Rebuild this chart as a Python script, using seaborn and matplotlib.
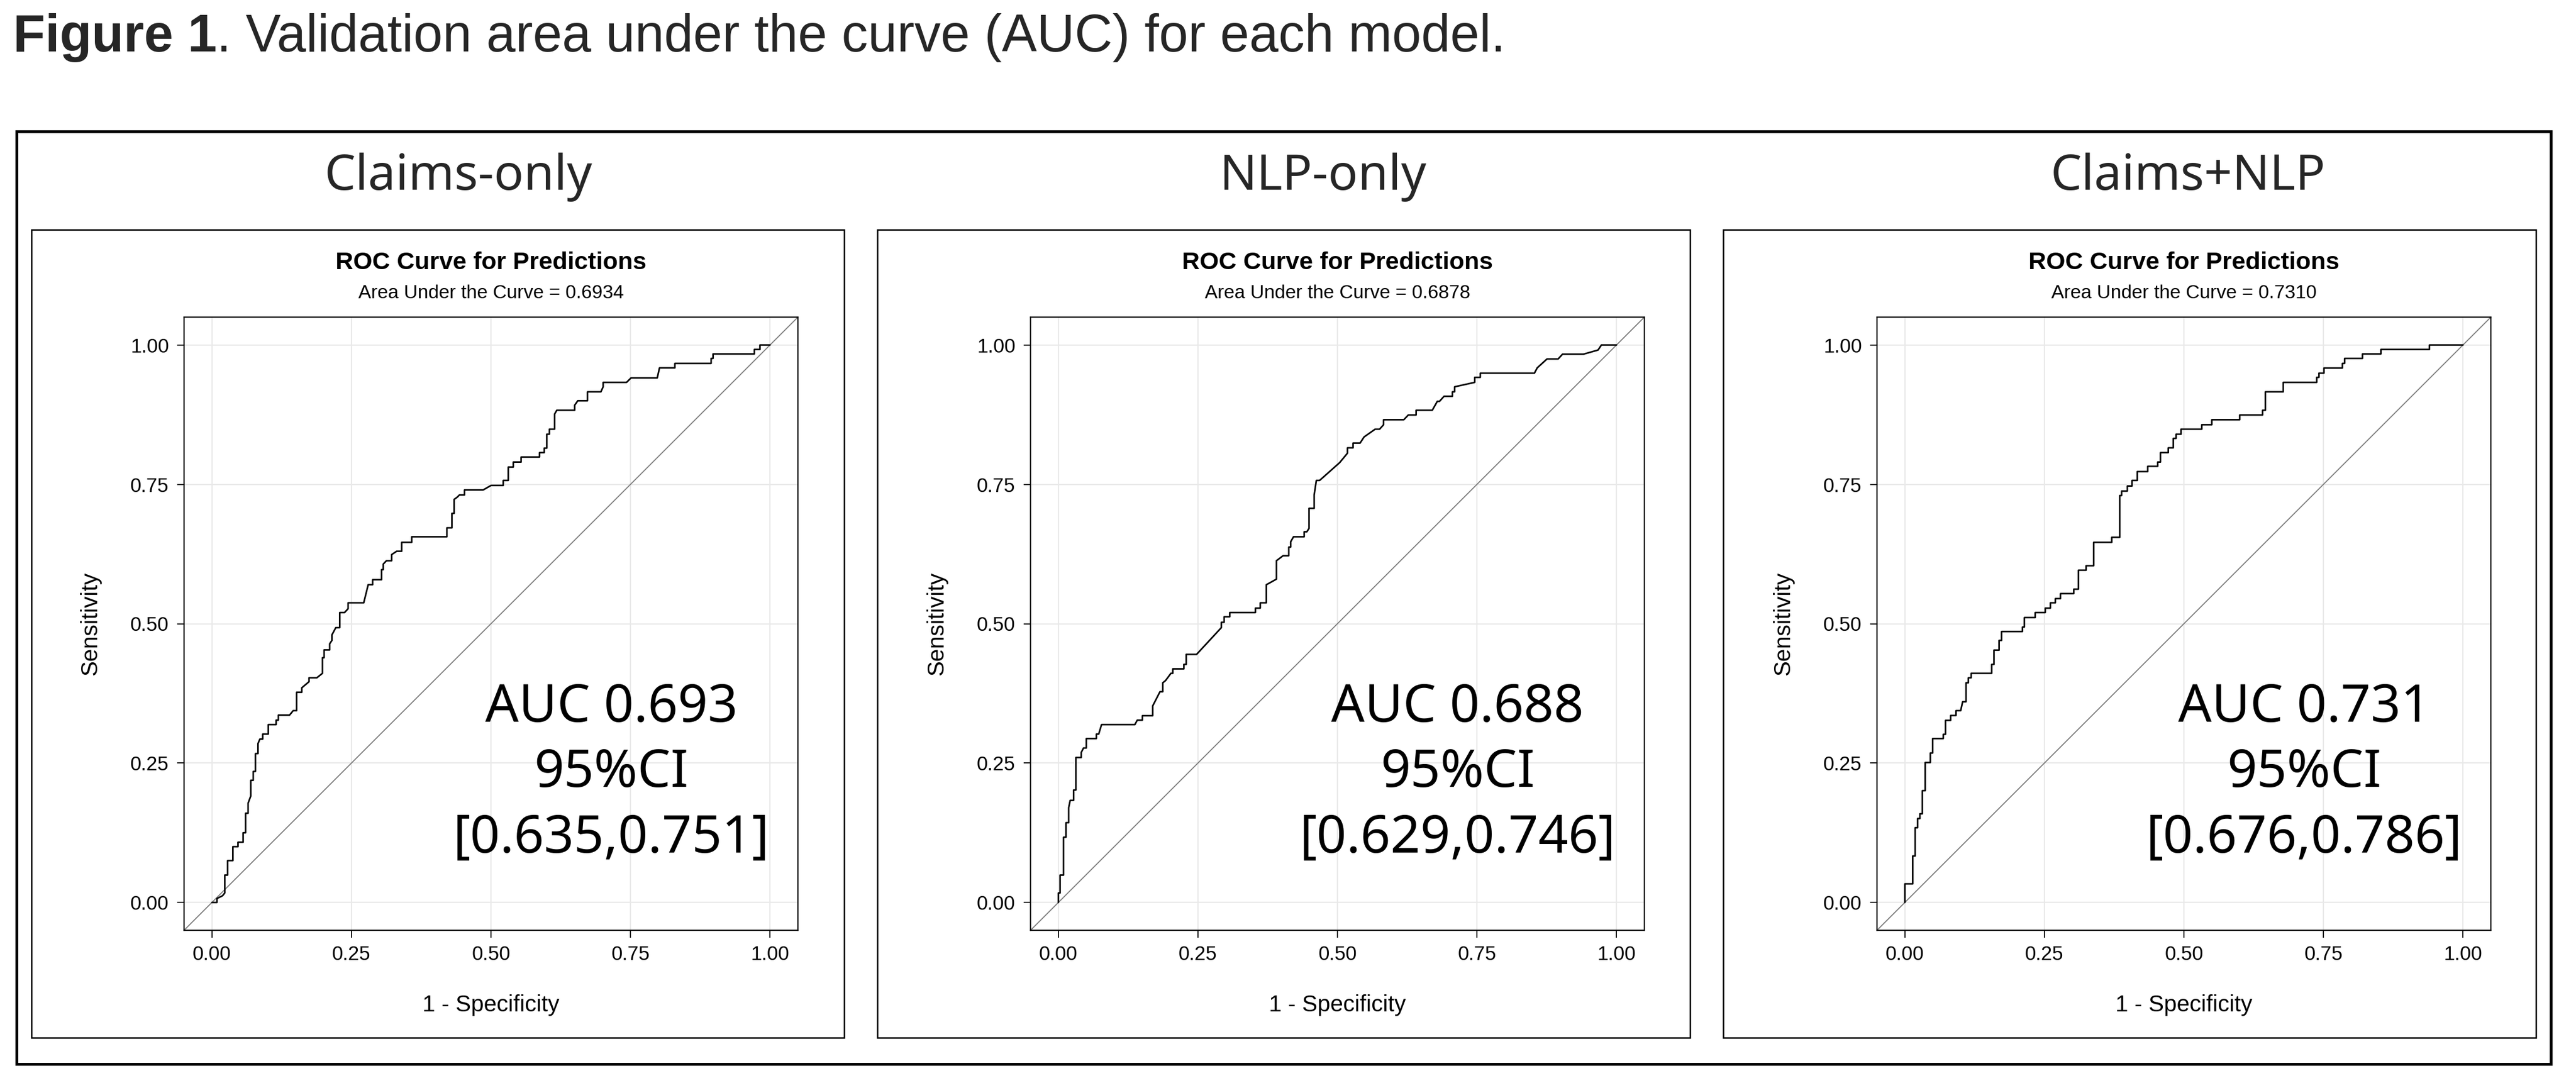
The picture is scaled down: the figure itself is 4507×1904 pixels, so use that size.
import numpy as np
import pandas as pd
import matplotlib
matplotlib.use("Agg")
import matplotlib.pyplot as plt
from matplotlib.patches import Rectangle
import seaborn as sns

# ---------------- data ----------------
models = ["Claims-only", "NLP-only", "Claims+NLP"]
auc_exact = ["0.6934", "0.6878", "0.7310"]
auc_short = ["0.693", "0.688", "0.731"]
ci_low = ["0.635", "0.629", "0.676"]
ci_high = ["0.751", "0.746", "0.786"]
tick_vals = [0.0, 0.25, 0.5, 0.75, 1.0]
tick_labels = ["0.00", "0.25", "0.50", "0.75", "1.00"]

# ROC path vertices (1 - specificity, sensitivity)
claims_roc = [
    (0, 0), (0.009, 0), (0.009, 0.007), (0.019, 0.012), (0.023, 0.017), (0.023, 0.049),
    (0.028, 0.049), (0.028, 0.075), (0.0375, 0.075), (0.0375, 0.1), (0.0467, 0.1),
    (0.0467, 0.108), (0.0559, 0.108), (0.0559, 0.125), (0.0603, 0.125), (0.0603, 0.16),
    (0.0648, 0.16), (0.0648, 0.178), (0.0696, 0.191), (0.0696, 0.219), (0.074, 0.219),
    (0.074, 0.235), (0.078, 0.235), (0.078, 0.267), (0.0825, 0.267), (0.0825, 0.285),
    (0.0859, 0.293), (0.091, 0.293), (0.091, 0.302), (0.101, 0.302), (0.101, 0.319),
    (0.115, 0.319), (0.115, 0.327), (0.119, 0.327), (0.119, 0.336), (0.139, 0.336),
    (0.1456, 0.344), (0.1517, 0.344), (0.1517, 0.377), (0.161, 0.377), (0.161, 0.385),
    (0.174, 0.396), (0.174, 0.403), (0.188, 0.403), (0.198, 0.411), (0.198, 0.439),
    (0.201, 0.439), (0.201, 0.453), (0.211, 0.453), (0.211, 0.464), (0.215, 0.47),
    (0.215, 0.48), (0.222, 0.493), (0.229, 0.493), (0.229, 0.52), (0.2376, 0.52),
    (0.244, 0.527), (0.244, 0.5375), (0.272, 0.5375), (0.28, 0.57), (0.288, 0.57),
    (0.288, 0.579), (0.304, 0.579), (0.304, 0.597), (0.307, 0.597), (0.307, 0.607),
    (0.3127, 0.613), (0.322, 0.613), (0.322, 0.624), (0.331, 0.63), (0.34, 0.63),
    (0.34, 0.646), (0.358, 0.646), (0.358, 0.656), (0.421, 0.656), (0.421, 0.672),
    (0.43, 0.672), (0.43, 0.698), (0.434, 0.698), (0.434, 0.723), (0.4395, 0.727),
    (0.4435, 0.731), (0.4526, 0.731), (0.4526, 0.74), (0.486, 0.74), (0.5, 0.748),
    (0.522, 0.748), (0.522, 0.757), (0.531, 0.757), (0.531, 0.781), (0.54, 0.781),
    (0.54, 0.79), (0.554, 0.79), (0.554, 0.799), (0.587, 0.799), (0.587, 0.807),
    (0.5955, 0.807), (0.5955, 0.815), (0.6, 0.815), (0.6, 0.84), (0.6047, 0.84),
    (0.6047, 0.849), (0.614, 0.849), (0.614, 0.876), (0.618, 0.883), (0.65, 0.883),
    (0.65, 0.892), (0.6556, 0.9), (0.673, 0.9), (0.673, 0.916), (0.697, 0.916),
    (0.701, 0.925), (0.701, 0.933), (0.743, 0.933), (0.751, 0.941), (0.798, 0.941),
    (0.802, 0.959), (0.8296, 0.959), (0.8296, 0.967), (0.8945, 0.967), (0.8945, 0.976),
    (0.898, 0.976), (0.898, 0.984), (0.972, 0.984), (0.972, 0.992), (0.982, 0.992),
    (0.982, 1.0), (1.0, 1.0),
]

nlp_roc = [
    (0, 0), (0, 0.017), (0.003, 0.017), (0.003, 0.049), (0.0092, 0.049), (0.0092, 0.117),
    (0.0136, 0.117), (0.0136, 0.143), (0.0184, 0.143), (0.0184, 0.17), (0.0211, 0.183),
    (0.0272, 0.183), (0.0272, 0.2016), (0.0313, 0.2016), (0.0313, 0.26), (0.0409, 0.26),
    (0.0409, 0.269), (0.045, 0.277), (0.05, 0.277), (0.05, 0.294), (0.068, 0.294),
    (0.068, 0.302), (0.0722, 0.302), (0.0773, 0.319), (0.137, 0.319), (0.1413, 0.327),
    (0.1505, 0.327), (0.1505, 0.335), (0.169, 0.335), (0.169, 0.3526), (0.182, 0.378),
    (0.187, 0.378), (0.187, 0.394), (0.192, 0.398), (0.2016, 0.411), (0.205, 0.411),
    (0.205, 0.419), (0.2248, 0.419), (0.2248, 0.427), (0.229, 0.427), (0.229, 0.445),
    (0.2476, 0.445), (0.292, 0.493), (0.292, 0.5026), (0.297, 0.5026), (0.297, 0.5125),
    (0.307, 0.5125), (0.307, 0.52), (0.353, 0.52), (0.353, 0.528), (0.3617, 0.528),
    (0.3617, 0.5375), (0.3726, 0.5375), (0.3726, 0.570), (0.38, 0.574), (0.3907, 0.58),
    (0.3907, 0.613), (0.4026, 0.622), (0.4128, 0.622), (0.4128, 0.6375), (0.4162, 0.6375),
    (0.4162, 0.647), (0.4213, 0.656), (0.4404, 0.656), (0.4404, 0.665), (0.4452, 0.665),
    (0.4491, 0.671), (0.4491, 0.707), (0.4583, 0.707), (0.4583, 0.731), (0.4622, 0.757),
    (0.468, 0.757), (0.504, 0.789), (0.518, 0.806), (0.518, 0.8155), (0.528, 0.8155),
    (0.528, 0.824), (0.5405, 0.824), (0.5477, 0.835), (0.5676, 0.849), (0.5755, 0.849),
    (0.5827, 0.857), (0.5827, 0.866), (0.619, 0.866), (0.627, 0.8745), (0.641, 0.8745),
    (0.641, 0.883), (0.670, 0.883), (0.679, 0.899), (0.683, 0.899), (0.691, 0.908),
    (0.706, 0.908), (0.706, 0.916), (0.71, 0.916), (0.71, 0.925), (0.746, 0.933),
    (0.746, 0.942), (0.756, 0.942), (0.756, 0.9495), (0.853, 0.9495), (0.858, 0.959),
    (0.8756, 0.975), (0.8955, 0.975), (0.9034, 0.9836), (0.941, 0.9836), (0.967, 0.991),
    (0.973, 1.0), (1.0, 1.0),
]

combined_roc = [
    (0, 0), (0, 0.0333), (0.014, 0.0333), (0.014, 0.0833), (0.0184, 0.0833), (0.0184, 0.134),
    (0.0228, 0.134), (0.0228, 0.1505), (0.0269, 0.1505), (0.0269, 0.159), (0.0313, 0.159),
    (0.0313, 0.2005), (0.0364, 0.2005), (0.0364, 0.251), (0.0456, 0.251), (0.0456, 0.268),
    (0.0497, 0.268), (0.0497, 0.294), (0.0688, 0.294), (0.0688, 0.3016), (0.0728, 0.3016),
    (0.0728, 0.3266), (0.082, 0.3266), (0.082, 0.3354), (0.0916, 0.3354), (0.0916, 0.344),
    (0.1, 0.344), (0.1035, 0.36), (0.1096, 0.36), (0.1096, 0.394), (0.1137, 0.394),
    (0.1137, 0.403), (0.1188, 0.403), (0.1188, 0.411), (0.1556, 0.411), (0.1556, 0.427),
    (0.1596, 0.427), (0.1596, 0.4526), (0.1688, 0.4526), (0.1688, 0.47), (0.1732, 0.47),
    (0.1732, 0.486), (0.2107, 0.486), (0.2107, 0.494), (0.2141, 0.494), (0.2141, 0.511),
    (0.2335, 0.511), (0.2335, 0.52), (0.2515, 0.52), (0.2515, 0.528), (0.2607, 0.528),
    (0.2607, 0.5375), (0.2696, 0.5375), (0.2696, 0.545), (0.2788, 0.545), (0.2788, 0.554),
    (0.3026, 0.554), (0.3026, 0.562), (0.311, 0.562), (0.311, 0.596), (0.3247, 0.596),
    (0.3247, 0.604), (0.3383, 0.604), (0.3383, 0.646), (0.3707, 0.646), (0.3707, 0.655),
    (0.385, 0.655), (0.385, 0.730), (0.3884, 0.730), (0.3884, 0.738), (0.3986, 0.738),
    (0.3986, 0.747), (0.407, 0.747), (0.407, 0.757), (0.4165, 0.757), (0.4165, 0.773),
    (0.4352, 0.773), (0.4352, 0.7824), (0.453, 0.7824), (0.453, 0.79), (0.458, 0.79),
    (0.458, 0.807), (0.472, 0.807), (0.472, 0.8155), (0.481, 0.8155), (0.481, 0.8325),
    (0.486, 0.8325), (0.486, 0.84), (0.4948, 0.84), (0.4948, 0.849), (0.532, 0.849),
    (0.532, 0.857), (0.55, 0.857), (0.55, 0.866), (0.6, 0.866), (0.6, 0.8745),
    (0.641, 0.8745), (0.641, 0.883), (0.646, 0.883), (0.646, 0.916), (0.678, 0.916),
    (0.678, 0.933), (0.738, 0.933), (0.738, 0.942), (0.742, 0.942), (0.742, 0.9495),
    (0.751, 0.9495), (0.751, 0.9587), (0.784, 0.9587), (0.784, 0.967), (0.788, 0.967),
    (0.788, 0.976), (0.82, 0.976), (0.82, 0.984), (0.853, 0.984), (0.853, 0.992),
    (0.94, 0.992), (0.94, 1.0), (1.0, 1.0),
]
rocs = [claims_roc, nlp_roc, combined_roc]

# ---------------- figure ----------------
sns.set_theme(style="whitegrid")
plt.rcParams['font.family'] = ['Liberation Sans', 'DejaVu Sans']

W, H = 4507, 1904
fig = plt.figure(figsize=(W / 100, H / 100), dpi=100)
fig.patch.set_facecolor("white")


def fx(px):
    return px / W


def fy(py):
    return 1 - py / H


def frame(x0, y0, x1, y1, lw):
    fig.add_artist(Rectangle((fx(x0), fy(y1)), fx(x1) - fx(x0), fy(y0) - fy(y1),
                             transform=fig.transFigure, fill=False,
                             edgecolor="black", linewidth=lw, zorder=0))


# main caption
t1 = fig.text(fx(23), fy(66), "Figure 1", fontsize=66, fontweight="bold",
              ha="left", va="center", family=["Liberation Sans", "DejaVu Sans"])
fig.canvas.draw()
bb = t1.get_window_extent(renderer=fig.canvas.get_renderer())
fig.text(bb.x1 / W, fy(66), ". Validation area under the curve (AUC) for each model.",
         fontsize=66, ha="left", va="center", family=["Liberation Sans", "DejaVu Sans"])

# outer frame
frame(29, 230, 4463, 1862, 3.5)

panel_left = [55, 1535, 3015]
axes_left = [322, 1803, 3284]
title_cx = [802, 2315, 3828]

for i in range(3):
    frame(panel_left[i], 402, panel_left[i] + 1422, 1816, 1.8)
    fig.text(fx(title_cx[i]), fy(310), models[i], fontsize=62, ha="center", va="center",
             family=["Noto Sans", "DejaVu Sans"])

    ax = fig.add_axes([fx(axes_left[i]), fy(1628), 1074 / W, 1073 / H])
    df = pd.DataFrame(rocs[i], columns=["fpr", "tpr"])
    ax.axline((0, 0), slope=1, color="#7a7a7a", linewidth=1.3, zorder=2)
    sns.lineplot(data=df, x="fpr", y="tpr", sort=False, estimator=None,
                 color="black", linewidth=2.0, ax=ax, zorder=3)
    ax.set_xlim(-0.05, 1.05)
    ax.set_ylim(-0.05, 1.05)
    ax.set_xticks(tick_vals)
    ax.set_xticklabels(tick_labels)
    ax.set_yticks(tick_vals)
    ax.set_yticklabels(tick_labels)
    ax.set_facecolor("white")
    ax.grid(True, color="#e9e9e9", linewidth=1.6)
    for s in ax.spines.values():
        s.set_color("black")
        s.set_linewidth(1.6)
    ax.tick_params(axis="both", direction="out", length=9, width=1.3, color="black",
                   labelsize=25, pad=10, labelcolor="black",
                   bottom=True, left=True)
    ax.set_xlabel("1 - Specificity", fontsize=29, color="black")
    ax.set_ylabel("Sensitivity", fontsize=29, color="black")
    ax.xaxis.label.set_va("center")
    ax.yaxis.label.set_va("center")
    ax.xaxis.set_label_coords(0.5, -(1759 - 1628) / 1073)
    ax.yaxis.set_label_coords((158 - 322) / 1074, 0.5)

    ax.text(0.5, 1 + (555 - 460) / 1073, "ROC Curve for Predictions", transform=ax.transAxes,
            ha="center", va="center", fontsize=31, fontweight="bold", color="black")
    ax.text(0.5, 1 + (555 - 514) / 1073, f"Area Under the Curve = {auc_exact[i]}",
            transform=ax.transAxes, ha="center", va="center", fontsize=24, color="black")

    auc_lines = [f"AUC {auc_short[i]}", "95%CI", f"[{ci_low[i]},{ci_high[i]}]"]
    auc_y = [0.349, 0.2315, 0.1136]
    for txt, yy in zip(auc_lines, auc_y):
        ax.text(0.7155, yy, txt, ha="center", va="center", fontsize=66, color="black",
                family=["Noto Sans", "DejaVu Sans"], zorder=4)

fig.savefig("out.png", dpi=100, facecolor="white")
